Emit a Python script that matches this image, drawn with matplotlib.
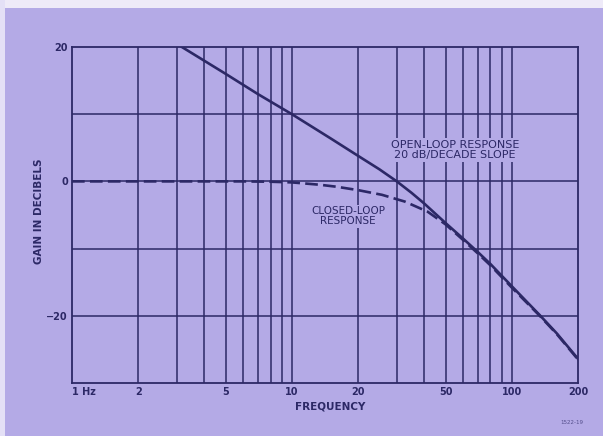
import numpy as np
import matplotlib.pyplot as plt
from matplotlib.patches import Rectangle

# values (frequency in Hz, gain in dB)
open_freq = [3.16, 5, 7, 10, 15, 20, 25, 30, 35, 40, 50, 60, 70, 80, 100, 134, 160, 200]
open_gain = [20, 16, 13, 10, 6.4, 3.8, 1.8, 0, -1.7, -3.3, -6.2, -8.5, -10.5, -12.3,
             -15.6, -19.9, -22.6, -26.4]

closed_freq = [1, 3, 6, 8, 10, 13.4, 16, 20, 25.7, 32.6, 41.4, 50, 60, 70, 80, 100, 134, 160, 200]
closed_gain = [0, 0, 0, -0.05, -0.15, -0.5, -0.8, -1.3, -2.0, -3.0, -4.5, -6.4, -8.7, -10.7,
               -12.5, -15.8, -20.0, -22.7, -26.5]

xticks = [1, 2, 5, 10, 20, 50, 100, 200]
xticklabels = ['1 Hz', '2', '5', '10', '20', '50', '100', '200']
xgrid = [2, 3, 4, 5, 6, 7, 8, 9, 10, 20, 30, 40, 50, 60, 70, 80, 90, 100]
yticks = [-20, 0, 20]
ygrid = [-20, -10, 0, 10]

bg = '#b4aae6'
ink = '#2c2866'

fig = plt.figure(figsize=(6.03, 4.36), dpi=100, facecolor=bg)
# pale paper edge at top and left of the scan
fig.patches.append(Rectangle((0, 0.982), 1, 0.018, transform=fig.transFigure,
                             facecolor='#eeeaf8', edgecolor='none', zorder=0))
fig.patches.append(Rectangle((0, 0), 0.008, 1, transform=fig.transFigure,
                             facecolor='#e4e0f6', edgecolor='none', zorder=0))

ax = fig.add_axes([0.1194, 0.1216, 0.8391, 0.7706])
ax.set_facecolor(bg)
ax.set_xscale('log')
ax.set_xlim(1, 200)
ax.set_ylim(-30, 20)

for x in xgrid:
    ax.axvline(x, color=ink, lw=1.1, zorder=1)
for y in ygrid:
    ax.axhline(y, color=ink, lw=1.1, zorder=1)
for s in ax.spines.values():
    s.set_color(ink)
    s.set_linewidth(1.3)

ax.plot(open_freq, open_gain, color=ink, lw=1.9, zorder=3)
ax.plot(closed_freq, closed_gain, color=ink, lw=1.9, dashes=(4.8, 2), zorder=3)

ax.set_xticks(xticks)
ax.set_xticklabels(xticklabels)
ax.xaxis.set_minor_locator(plt.NullLocator())
ax.set_yticks(yticks)
ax.tick_params(length=0, colors=ink, labelsize=7, pad=3)
ax.get_xticklabels()[0].set_ha('left')
for lab in ax.get_xticklabels() + ax.get_yticklabels():
    lab.set_fontweight('bold')

ax.set_xlabel('FREQUENCY', color=ink, fontsize=7.5, fontweight='bold')
ax.xaxis.set_label_coords(0.51, -0.055)
ax.set_ylabel('GAIN IN DECIBELS', color=ink, fontsize=7.5, fontweight='bold')
ax.yaxis.set_label_coords(-0.055, 0.51)

# grid lines are broken behind the labels in the original
ax.text(55, 4.7, 'OPEN-LOOP RESPONSE\n20 dB/DECADE SLOPE', color=ink, fontsize=8,
        ha='center', va='center', linespacing=1.05, zorder=2,
        bbox=dict(facecolor=bg, edgecolor='none', pad=1.5))
ax.text(18, -5.2, 'CLOSED-LOOP\nRESPONSE', color=ink, fontsize=7.5,
        ha='center', va='center', linespacing=1.0, zorder=2,
        bbox=dict(facecolor=bg, edgecolor='none', pad=1))

fig.text(0.948, 0.032, '1522-19', color=ink, fontsize=4, ha='center', va='center', alpha=0.7)

fig.savefig('out.png', dpi=100, facecolor=fig.get_facecolor())
